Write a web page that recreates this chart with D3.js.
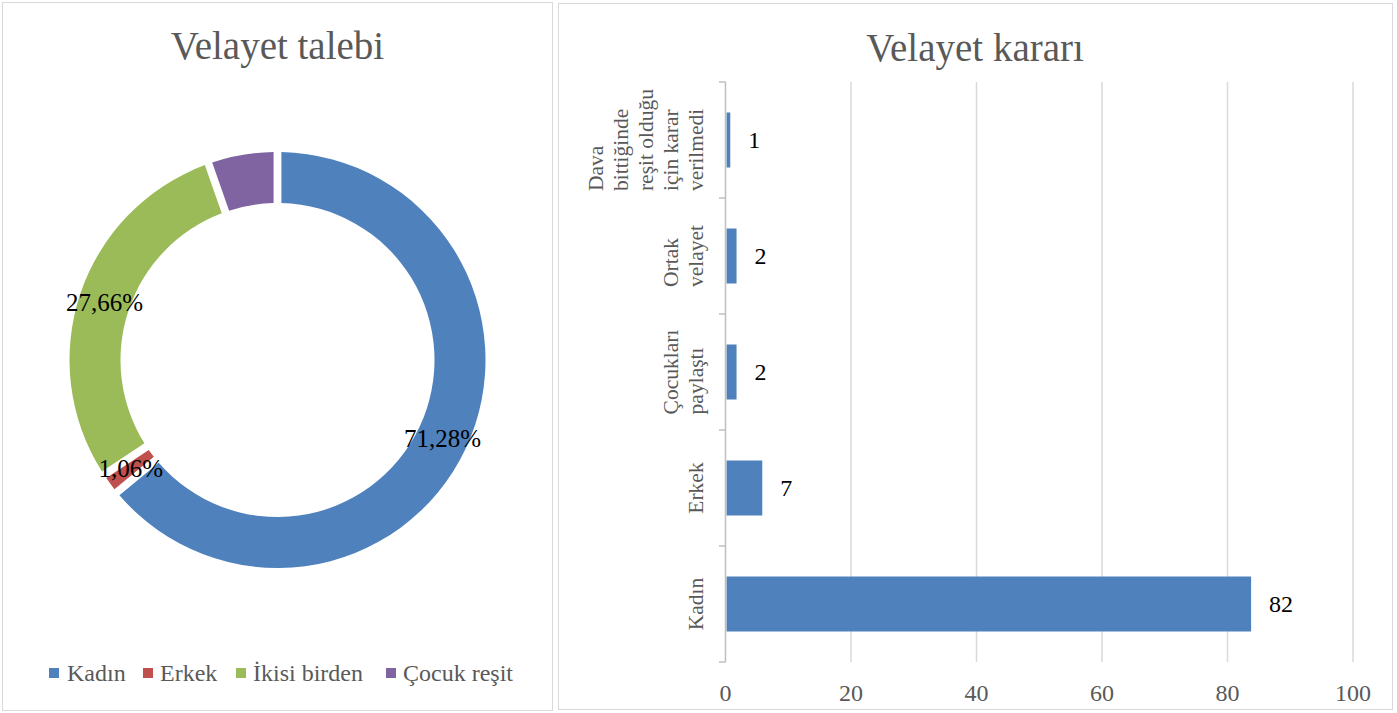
<!DOCTYPE html>
<html>
<head>
<meta charset="utf-8">
<script src="https://cdn.jsdelivr.net/npm/d3@7"></script>
<style>
  html, body { margin: 0; padding: 0; background: #ffffff; }
  svg { display: block; }
  text { font-family: "Liberation Serif", "DejaVu Serif", serif; }
</style>
</head>
<body>
<svg id="chart" width="1397" height="713"></svg>
<script>
// ---------- Data: donut "Velayet talebi" ----------
const donutTitle = "Velayet talebi";
const donutCategories = ["Kadın", "Erkek", "İkisi birden", "Çocuk reşit"];
// slice shares as they appear in the picture (percent of the ring)
const donutShares = [64.8, 1.2, 29.0, 5.0];
// data labels as printed on the chart
const donutLabels = ["71,28%", "1,06%", "27,66%", ""];
const donutColors = ["#4F81BD", "#C0504D", "#9BBB59", "#8064A2"];

// ---------- Data: bar "Velayet kararı" ----------
const barTitle = "Velayet kararı";
const barCategories = [
  "Dava bittiğinde reşit olduğu için karar verilmedi",
  "Ortak velayet",
  "Çocukları paylaştı",
  "Erkek",
  "Kadın"
];
const barCategoryLines = [
  ["Dava", "bittiğinde", "reşit olduğu", "için karar", "verilmedi"],
  ["Ortak", "velayet"],
  ["Çocukları", "paylaştı"],
  ["Erkek"],
  ["Kadın"]
];
// bar lengths as drawn in the picture
const barValues = [0.6, 1.6, 1.6, 5.7, 83.6];
// value labels as printed on the chart
const barLabels = ["1", "2", "2", "7", "82"];
const xTicks = [0, 20, 40, 60, 80, 100];
const barColor = "#4F81BD";

const svg = d3.select("#chart");
const textGray = "#595959";
const borderGray = "#d9d9d9";

// ---------- Panels ----------
svg.append("rect").attr("x", 2.5).attr("y", 2.5).attr("width", 550).attr("height", 708)
  .attr("fill", "#fff").attr("stroke", borderGray).attr("stroke-width", 1);
svg.append("rect").attr("x", 558.5).attr("y", 3.5).attr("width", 834).attr("height", 706)
  .attr("fill", "#fff").attr("stroke", borderGray).attr("stroke-width", 1);

// ---------- Donut ----------
const cx = 277.5, cy = 360, rOuter = 208, rInner = 157;
svg.append("text").attr("x", cx).attr("y", 59).attr("text-anchor", "middle")
  .attr("font-size", 39).attr("fill", textGray).text(donutTitle);

const pie = d3.pie().sort(null).value(d => d).padAngle(0.03);
const arcs = pie(donutShares);
const arc = d3.arc().innerRadius(rInner).outerRadius(rOuter);
const labelArc = d3.arc().innerRadius((rInner + rOuter) / 2).outerRadius((rInner + rOuter) / 2);

const gD = svg.append("g").attr("transform", `translate(${cx},${cy})`);
gD.selectAll("path.slice").data(arcs).join("path")
  .attr("class", "slice")
  .attr("d", arc)
  .attr("fill", (d, i) => donutColors[i]);

gD.selectAll("text.dl").data(arcs).join("text")
  .attr("class", "dl")
  .attr("transform", d => `translate(${labelArc.centroid(d)})`)
  .attr("text-anchor", "middle")
  .attr("dy", "0.35em")
  .attr("font-size", 25)
  .attr("fill", "#000")
  .text((d, i) => donutLabels[i]);

// Legend
const legendItems = [
  { sx: 49, tx: 67 },
  { sx: 143, tx: 160 },
  { sx: 236, tx: 253 },
  { sx: 386, tx: 403 }
];
const gL = svg.append("g");
donutCategories.forEach((c, i) => {
  gL.append("rect").attr("x", legendItems[i].sx).attr("y", 668).attr("width", 10).attr("height", 10)
    .attr("fill", donutColors[i]);
  gL.append("text").attr("x", legendItems[i].tx).attr("y", 681)
    .attr("font-size", 24).attr("fill", textGray).text(c);
});

// ---------- Bar chart ----------
svg.append("text").attr("x", 975).attr("y", 61).attr("text-anchor", "middle")
  .attr("font-size", 39).attr("fill", textGray).text(barTitle);

const x = d3.scaleLinear().domain([0, 100]).range([725.5, 1353]);
const y = d3.scaleBand().domain(barCategories).range([82, 662])
  .paddingInner(0.526).paddingOuter(0.263);

// gridlines
svg.append("g").selectAll("line").data(xTicks.filter(t => t > 0)).join("line")
  .attr("x1", d => x(d)).attr("x2", d => x(d))
  .attr("y1", 82).attr("y2", 662)
  .attr("stroke", borderGray).attr("stroke-width", 1.5);

// bars
svg.append("g").selectAll("rect").data(barValues).join("rect")
  .attr("x", x(0) + 1)
  .attr("y", (d, i) => y(barCategories[i]))
  .attr("width", d => x(d) - x(0))
  .attr("height", y.bandwidth())
  .attr("fill", barColor);

// value labels
svg.append("g").selectAll("text").data(barValues).join("text")
  .attr("x", d => x(d) + 19)
  .attr("y", (d, i) => y(barCategories[i]) + y.bandwidth() / 2)
  .attr("dy", "0.35em")
  .attr("font-size", 24)
  .attr("fill", "#000")
  .text((d, i) => barLabels[i]);

// category axis line with outward ticks at band boundaries
const step = y.step();
const boundaries = d3.range(barCategories.length + 1).map(i => 82 + i * step);
svg.append("line").attr("x1", 725.5).attr("x2", 725.5).attr("y1", 82).attr("y2", 662)
  .attr("stroke", "#bfbfbf").attr("stroke-width", 1.5);
svg.append("g").selectAll("line").data(boundaries).join("line")
  .attr("x1", 719).attr("x2", 725.5)
  .attr("y1", d => d).attr("y2", d => d)
  .attr("stroke", "#bfbfbf").attr("stroke-width", 1.5);

// x tick labels
svg.append("g").selectAll("text").data(xTicks).join("text")
  .attr("x", d => x(d)).attr("y", 701)
  .attr("text-anchor", "middle")
  .attr("font-size", 24).attr("fill", textGray)
  .text(d => d);

// rotated multi-line category labels
const lh = 25;
barCategories.forEach((c, i) => {
  const lines = barCategoryLines[i];
  const g = svg.append("g")
    .attr("transform", `translate(703,${y(c) + y.bandwidth() / 2}) rotate(-90)`);
  const texts = lines.map((ln, j) =>
    g.append("text").attr("x", 0).attr("y", -(lines.length - 1 - j) * lh)
      .attr("font-size", 21.5).attr("fill", textGray).text(ln));
  const maxLen = d3.max(texts, t => t.node().getComputedTextLength());
  texts.forEach(t => t.attr("x", -maxLen / 2));
});
</script>
</body>
</html>
